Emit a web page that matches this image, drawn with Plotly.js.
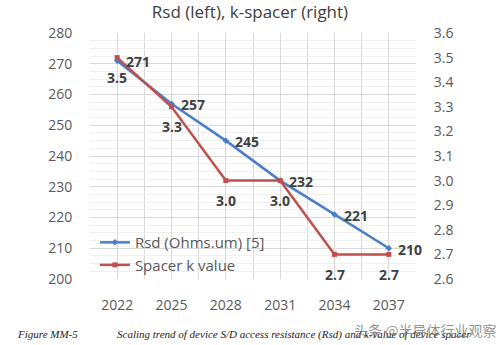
<!DOCTYPE html>
<html>
<head>
<meta charset="utf-8">
<script src="https://cdn.plot.ly/plotly-3.0.1.min.js"></script>
<style>html,body{margin:0;padding:0;background:#fff;}#chart{width:500px;height:345px;}</style>
</head>
<body>
<div id="chart"></div>
<script>
const years = [2022, 2025, 2028, 2031, 2034, 2037];
const rsd = [271, 257, 245, 232, 221, 210];
const spacerK = [3.5, 3.3, 3.0, 3.0, 2.7, 2.7];
const rsdName = "Rsd (Ohms.um) [5]";
const kName = "Spacer k value";
const titleText = "Rsd (left), k-spacer (right)";
const captionLeft = "Figure MM-5";
const captionRight = "Scaling trend of device S/D access resistance (Rsd) and k-value of device spacer";
const watermark = "头条 @半导体行业观察";

const blue = "#4A7EC7";
const red = "#C0504D";
const labelFont = {family: "Open Sans, sans-serif", size: 14, color: "#404040", weight: "bold"};

const traces = [
  {
    x: years, y: rsd, name: rsdName, type: "scatter", mode: "lines+markers",
    line: {color: blue, width: 2.5}, marker: {color: blue, size: 5, symbol: "diamond"},
    cliponaxis: false, yaxis: "y"
  },
  {
    x: years, y: spacerK, name: kName, type: "scatter", mode: "lines+markers",
    line: {color: red, width: 2.5}, marker: {color: red, size: 5, symbol: "square"},
    cliponaxis: false, yaxis: "y2"
  }
];

const tickFont = {family: "Open Sans, sans-serif", size: 14, color: "#595959"};
const pw = 500 - 90 - 84, ph = 345 - 33 - 66;

const annotations = [];
years.forEach((yr, i) => {
  annotations.push({x: yr, y: rsd[i], xref: "x", yref: "y", text: String(rsd[i]),
    xanchor: "left", yanchor: "middle", xshift: 7, yshift: -1, showarrow: false, font: labelFont});
  annotations.push({x: yr, y: spacerK[i], xref: "x", yref: "y2", text: spacerK[i].toFixed(1),
    xanchor: "center", yanchor: "middle", yshift: -20, showarrow: false, font: labelFont});
});
annotations.push(
  {text: captionLeft, xref: "paper", yref: "paper", x: (15 - 90) / pw, y: (279 - 334) / ph,
    xanchor: "left", yanchor: "middle", showarrow: false,
    font: {family: "Liberation Serif, serif", size: 11, color: "#222", style: "italic"}},
  {text: captionRight, xref: "paper", yref: "paper", x: (115 - 90) / pw, y: (279 - 334) / ph,
    xanchor: "left", yanchor: "middle", showarrow: false,
    font: {family: "Liberation Serif, serif", size: 11, color: "#222", style: "italic"}},
  {text: watermark, xref: "paper", yref: "paper", x: (425 - 90) / pw, y: (279 - 330) / ph,
    xanchor: "center", yanchor: "middle", showarrow: false,
    font: {family: "Noto Sans CJK SC", size: 14, color: "rgba(110,110,110,0.75)"}}
);

const layout = {
  width: 500, height: 345,
  margin: {l: 90, r: 84, t: 33, b: 66},
  paper_bgcolor: "#fff", plot_bgcolor: "#fff",
  title: {text: titleText, font: {family: "Open Sans, sans-serif", size: 17, color: "#404040"}, x: 0.5, xanchor: "center", y: 0.965, yanchor: "middle"},
  showlegend: true,
  legend: {x: 0.015, y: 0.215, xanchor: "left", yanchor: "top", bgcolor: "rgba(0,0,0,0)",
    font: {family: "Open Sans, sans-serif", size: 15, color: "#595959"}, tracegroupgap: 0},
  xaxis: {
    range: [2020.5, 2038.5], tickvals: years, ticktext: years.map(String),
    showgrid: true, gridcolor: "#d9d9d9", gridwidth: 1,
    minor: {tick0: 2020.5, dtick: 1.5, showgrid: true, gridcolor: "#d9d9d9", gridwidth: 1},
    zeroline: false, showline: false,
    ticks: "outside", ticklen: 13, tickcolor: "rgba(0,0,0,0)",
    tickfont: tickFont, fixedrange: true
  },
  yaxis: {
    range: [200, 280], dtick: 10, tick0: 200,
    showgrid: true, gridcolor: "#d9d9d9", gridwidth: 1,
    minor: {dtick: 2.5, showgrid: true, gridcolor: "#f0f0f0", gridwidth: 1},
    zeroline: false, showline: false,
    ticks: "outside", ticklen: 14, tickcolor: "rgba(0,0,0,0)",
    tickfont: tickFont
  },
  yaxis2: {
    range: [2.6, 3.6], dtick: 0.1, tick0: 2.6, tickformat: ".1f",
    overlaying: "y", side: "right", showgrid: false, zeroline: false, showline: false,
    ticks: "outside", ticklen: 14, tickcolor: "rgba(0,0,0,0)",
    tickfont: tickFont
  },
  annotations: annotations
};

Plotly.newPlot("chart", traces, layout, {displayModeBar: false, staticPlot: true});
</script>
</body>
</html>
